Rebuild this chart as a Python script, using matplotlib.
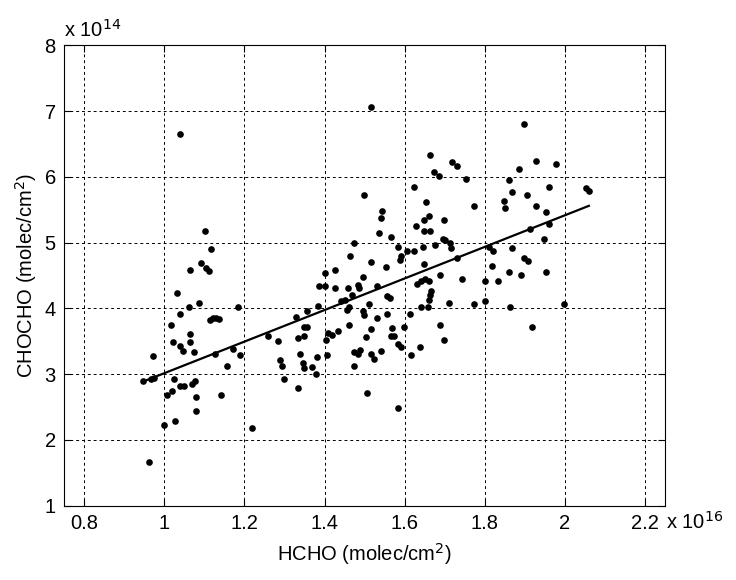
import matplotlib.pyplot as plt
import numpy as np

# HCHO in units of 1e16, CHOCHO in units of 1e14 (molec/cm2)
hcho = [1.038, 1.101, 1.117, 1.091, 1.105, 1.111, 1.063, 1.032, 1.086, 1.061,
        1.038, 1.184, 1.113, 1.122, 1.130, 1.136, 1.016, 1.063, 1.063, 1.022,
        1.038, 1.047, 1.073, 0.971, 1.127, 1.171, 1.188, 1.156, 0.948, 0.968,
        0.975, 1.025, 1.007, 1.019, 1.040, 1.048, 1.069, 1.076, 1.080, 1.142,
        1.080, 1.027, 0.999, 1.220, 0.961, 1.258, 1.283, 1.289, 1.295, 1.299,
        1.517, 1.664, 1.674, 1.687, 1.718, 1.731, 1.753, 1.623, 1.654, 1.774,
        1.499, 1.543, 1.540, 1.660, 1.648, 1.699, 1.629, 1.648, 1.664, 1.535,
        1.565, 1.696, 1.702, 1.714, 1.717, 1.474, 1.584, 1.605, 1.623, 1.645,
        1.677, 1.464, 1.592, 1.588, 1.517, 1.553, 1.648, 1.731, 1.400, 1.426,
        1.495, 1.689, 1.743, 1.801, 1.630, 1.640, 1.650, 1.662, 1.386, 1.400,
        1.426, 1.458, 1.484, 1.487, 1.531, 1.469, 1.557, 1.564, 1.667, 1.664,
        1.662, 1.440, 1.450, 1.512, 1.383, 1.462, 1.456, 1.495, 1.499, 1.531,
        1.557, 1.613, 1.640, 1.659, 1.712, 1.772, 1.801, 1.357, 1.328, 1.349,
        1.355, 1.334, 1.350, 1.404, 1.408, 1.418, 1.433, 1.462, 1.338, 1.346,
        1.350, 1.369, 1.379, 1.382, 1.407, 1.334, 1.474, 1.474, 1.484, 1.489,
        1.503, 1.517, 1.515, 1.524, 1.540, 1.507, 1.569, 1.565, 1.574, 1.583,
        1.592, 1.598, 1.617, 1.638, 1.689, 1.699, 1.584, 1.899, 1.928, 1.977,
        1.886, 1.861, 1.867, 1.960, 1.905, 1.848, 1.850, 1.928, 1.954, 1.960,
        1.913, 1.947, 2.054, 2.060, 1.811, 1.821, 1.869, 1.899, 1.909, 1.819,
        1.861, 1.890, 1.954, 1.834, 1.863, 1.998, 1.918]
chocho = [6.65, 5.18, 4.90, 4.69, 4.61, 4.57, 4.58, 4.23, 4.08, 4.02,
          3.92, 4.02, 3.82, 3.85, 3.85, 3.84, 3.74, 3.61, 3.49, 3.49,
          3.43, 3.35, 3.33, 3.28, 3.31, 3.38, 3.29, 3.12, 2.89, 2.93,
          2.94, 2.93, 2.68, 2.74, 2.82, 2.82, 2.85, 2.89, 2.65, 2.68,
          2.44, 2.29, 2.23, 2.18, 1.67, 3.58, 3.51, 3.22, 3.13, 2.93,
          7.06, 6.33, 6.07, 6.01, 6.22, 6.16, 5.96, 5.84, 5.61, 5.56,
          5.72, 5.48, 5.38, 5.41, 5.34, 5.34, 5.25, 5.18, 5.18, 5.14,
          5.09, 5.05, 5.04, 4.99, 4.92, 5.00, 4.94, 4.88, 4.88, 4.94,
          4.96, 4.80, 4.79, 4.74, 4.70, 4.63, 4.67, 4.77, 4.54, 4.58,
          4.47, 4.51, 4.45, 4.42, 4.37, 4.42, 4.44, 4.42, 4.34, 4.34,
          4.31, 4.31, 4.36, 4.31, 4.34, 4.20, 4.19, 4.16, 4.27, 4.20,
          4.13, 4.11, 4.12, 4.06, 4.03, 4.02, 3.97, 3.96, 3.90, 3.85,
          3.91, 3.91, 4.02, 4.02, 4.08, 4.06, 4.11, 3.96, 3.87, 3.71,
          3.71, 3.55, 3.58, 3.52, 3.63, 3.60, 3.66, 3.74, 3.31, 3.17,
          3.09, 3.11, 3.01, 3.26, 3.29, 2.79, 3.12, 3.33, 3.31, 3.37,
          3.57, 3.68, 3.31, 3.23, 3.35, 2.72, 3.70, 3.58, 3.58, 3.46,
          3.42, 3.71, 3.29, 3.41, 3.74, 3.52, 2.49, 6.81, 6.24, 6.20,
          6.12, 5.95, 5.77, 5.84, 5.72, 5.64, 5.52, 5.56, 5.47, 5.29,
          5.21, 5.05, 5.83, 5.79, 4.94, 4.88, 4.92, 4.77, 4.72, 4.64,
          4.55, 4.51, 4.55, 4.42, 4.02, 4.06, 3.72]

# regression line as drawn in the figure
fit_slope = 2.40
fit_intercept = 0.615

plt.rcParams['font.family'] = ['Liberation Sans', 'DejaVu Sans']
fs = 14.5

fig = plt.figure(figsize=(7.36, 5.8), dpi=100)
ax = fig.add_axes([0.0872, 0.128, 0.8163, 0.794])

x = np.array(hcho)
y = np.array(chocho)
ax.plot(x, y, 'o', color='black', markersize=4.8, markeredgewidth=0)

xf = np.array([x.min(), x.max()])
ax.plot(xf, fit_slope * xf + fit_intercept, color='black', linewidth=1.6)

ax.set_xlim(0.75, 2.25)
ax.set_ylim(1, 8)
ax.set_xticks([0.8, 1, 1.2, 1.4, 1.6, 1.8, 2, 2.2])
ax.set_xticklabels(['0.8', '1', '1.2', '1.4', '1.6', '1.8', '2', '2.2'])
ax.set_yticks([1, 2, 3, 4, 5, 6, 7, 8])
ax.grid(True, color='black', linestyle=(0, (3, 3)), linewidth=0.7)
ax.tick_params(direction='in', top=True, right=True, labelsize=fs, length=5, pad=6)
for s in ax.spines.values():
    s.set_linewidth(0.8)

ax.text(0.0, 1.01, r'x 10$^{14}$', transform=ax.transAxes, fontsize=fs, va='bottom', ha='left')
ax.text(1.002, -0.012, r'x 10$^{16}$', transform=ax.transAxes, fontsize=fs, va='top', ha='left')

ax.set_xlabel('HCHO (molec/cm$^2$)', fontsize=fs, labelpad=6)
ax.set_ylabel('CHOCHO (molec/cm$^2$)', fontsize=fs, labelpad=4)

fig.savefig('out.png', dpi=100)
